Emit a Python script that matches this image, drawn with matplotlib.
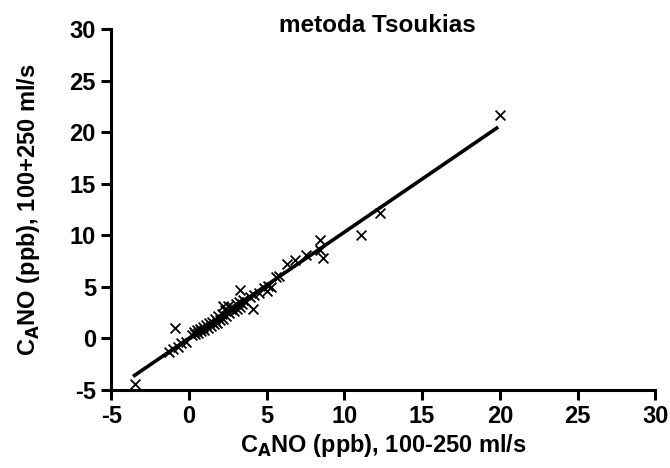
import numpy as np
import matplotlib.pyplot as plt

# CANO measured at 100-250 ml/s vs 100+250 ml/s
x_vals = [-3.5, -1.3, -1.0, -0.9, -0.7, -0.5, -0.2, 0.2, 0.3, 0.4, 0.5, 0.6,
          0.7, 0.8, 0.9, 1.0, 1.1, 1.2, 1.3, 1.4, 1.5, 1.6, 1.7, 1.8, 1.9,
          2.0, 2.1, 2.2, 2.2, 2.3, 2.4, 2.5, 2.6, 2.7, 2.8, 2.9, 3.0, 3.1,
          3.2, 3.3, 3.3, 3.4, 3.5, 3.7, 3.9, 4.1, 4.2, 4.5, 4.8, 5.0, 5.1,
          5.3, 5.6, 5.8, 6.3, 6.8, 7.5, 8.4, 8.4, 8.6, 11.1, 12.3, 20.0]
y_vals = [-4.4, -1.3, -1.0, 1.0, -0.8, -0.5, -0.4, 0.3, 0.6, 0.4, 0.8, 0.5,
          0.9, 0.7, 1.1, 0.8, 1.3, 1.0, 1.5, 1.2, 1.6, 1.4, 1.9, 1.5, 2.2,
          1.8, 2.4, 1.9, 3.1, 2.7, 2.2, 3.1, 2.5, 2.8, 3.0, 2.6, 3.3, 2.8,
          3.5, 3.0, 4.7, 3.3, 3.7, 3.5, 4.0, 2.8, 4.2, 4.4, 4.9, 4.6, 5.1,
          5.0, 5.9, 6.0, 7.2, 7.6, 8.1, 9.5, 8.6, 7.8, 10.0, 12.2, 21.7]

x = np.array(x_vals)
y = np.array(y_vals)

# linear fit
k, b = np.polyfit(x, y, 1)
xf = np.array([x.min(), 19.8])

plt.rcParams['font.family'] = ['Liberation Sans', 'DejaVu Sans']
plt.rcParams['font.weight'] = 'bold'
plt.rcParams['axes.unicode_minus'] = False

fig = plt.figure(figsize=(6.7, 4.68), dpi=100)
ax = fig.add_axes([0.166, 0.167, 0.812, 0.771])

ax.scatter(x, y, marker='x', color='black', s=50, linewidths=1.3, zorder=3)
ax.plot(xf, k * xf + b, color='black', linewidth=2.6)

ax.set_xlim(-5, 30)
ax.set_ylim(-5, 30)
ax.set_xticks(np.arange(-5, 31, 5))
ax.set_yticks(np.arange(-5, 31, 5))
ax.spines['top'].set_visible(False)
ax.spines['right'].set_visible(False)
ax.spines['left'].set_linewidth(2.2)
ax.spines['bottom'].set_linewidth(2.2)
ax.tick_params(width=2.2, length=7, labelsize=17, pad=4)
for lab in ax.get_xticklabels() + ax.get_yticklabels():
    lab.set_fontweight('bold')

ax.set_xlabel('C$_\\mathbf{A}$NO (ppb), 100-250 ml/s', fontsize=17, fontweight='bold', labelpad=3)
ax.set_ylabel('C$_\\mathbf{A}$NO (ppb), 100+250 ml/s', fontsize=17, fontweight='bold', labelpad=20)
ax.text(0.49, 1.011, 'metoda Tsoukias', transform=ax.transAxes, ha='center', va='center',
        fontsize=17.5, fontweight='bold')

fig.savefig('out.png', dpi=100)
